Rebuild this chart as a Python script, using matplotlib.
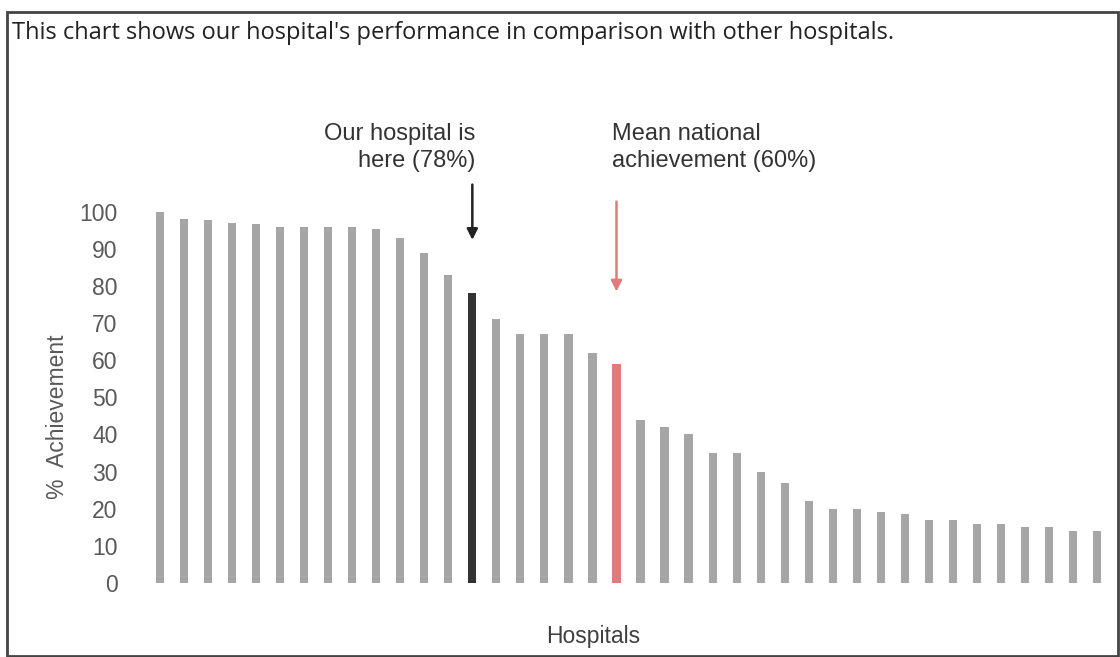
import numpy as np
from matplotlib import pyplot as plt
from matplotlib.patches import Rectangle

# values (% achievement per hospital, sorted)
achievement = [100, 98, 97.7, 97, 96.8, 96, 96, 96, 95.8, 95.4,
               93, 89, 83, 78, 71, 67, 67, 67, 62, 59,
               44, 42, 40, 35, 35, 30, 27, 22, 20, 20,
               19, 18.5, 17, 17, 16, 16, 15, 15, 14, 14]
our_idx = 13
mean_idx = 19
yticks = [0, 10, 20, 30, 40, 50, 60, 70, 80, 90, 100]

title = "This chart shows our hospital's performance in comparison with other hospitals."
our_label = "Our hospital is\nhere (78%)"
mean_label = "Mean national\nachievement (60%)"

W, H = 1120, 657
fig = plt.figure(figsize=(W / 100, H / 100), dpi=100)
fig.patch.set_facecolor('white')

ax = fig.add_axes([148 / W, (H - 583) / H, 961 / W, 371.3 / H])

colors = ['#a6a6a6'] * len(achievement)
colors[our_idx] = '#333333'
colors[mean_idx] = '#e07b7b'
x = np.arange(len(achievement))
ax.bar(x, achievement, width=0.34, color=colors)

ax.set_xlim(-0.5, len(achievement) - 0.5)
ax.set_ylim(0, 100)
ax.set_yticks(yticks)
ax.set_xticks([])
for s in ax.spines.values():
    s.set_visible(False)
ax.tick_params(axis='y', length=0, pad=22, labelsize=16.5, labelcolor='#595959')
for lab in ax.get_yticklabels():
    lab.set_fontfamily('Liberation Sans')

# annotations
ax.annotate('', xy=(our_idx, 92.4), xytext=(our_idx, 107.3),
            arrowprops=dict(arrowstyle='-|>', color='#222222', lw=1.8,
                            mutation_scale=16, shrinkA=0, shrinkB=0),
            annotation_clip=False)
ax.text(our_idx + 0.13, 117.2, our_label, ha='right', va='center',
        fontsize=17, color='#333333', family='Liberation Sans',
        linespacing=1.3, clip_on=False)

ax.annotate('', xy=(mean_idx, 78.5), xytext=(mean_idx, 102.7),
            arrowprops=dict(arrowstyle='-|>', color='#e07b7b', lw=1.8,
                            mutation_scale=16, shrinkA=0, shrinkB=0),
            annotation_clip=False)
ax.text(mean_idx - 0.17, 117.2, mean_label, ha='left', va='center',
        fontsize=17, color='#333333', family='Liberation Sans',
        linespacing=1.3, clip_on=False)

fig.text(58 / W, 1 - 417 / H, '%  Achievement', rotation=90, ha='center', va='center',
         fontsize=16.5, color='#595959', family='Liberation Sans')
fig.text(593 / W, 1 - 636 / H, 'Hospitals', ha='center', va='center',
         fontsize=16.5, color='#404040', family='Liberation Sans')

fig.text(12 / W, 1 - 33 / H, title, ha='left', va='center',
         fontsize=17, color='#222222', family='Open Sans')

fig.add_artist(Rectangle((7 / W, 1.5 / H), 1111 / W, 643.5 / H, transform=fig.transFigure,
                         fill=False, edgecolor='#444444', lw=2))

plt.savefig('out.png', dpi=100)
